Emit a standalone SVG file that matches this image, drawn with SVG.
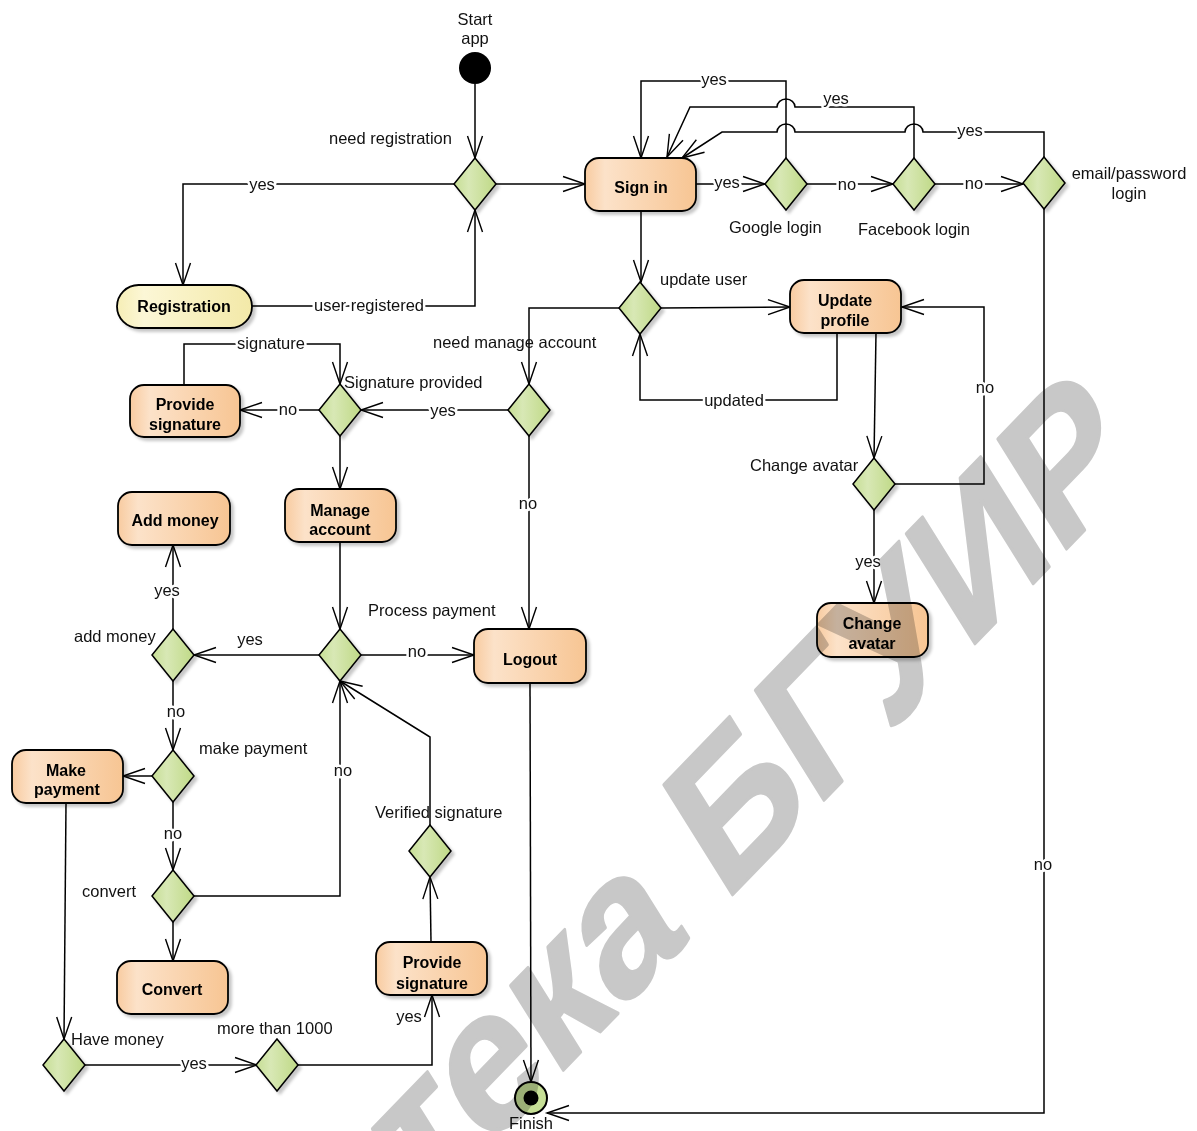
<svg xmlns="http://www.w3.org/2000/svg" width="1197" height="1131" viewBox="0 0 1197 1131">
  <defs>
    <linearGradient id="gAct" x1="0" y1="0" x2="1" y2="0">
      <stop offset="0" stop-color="#f8cba0"/>
      <stop offset="0.18" stop-color="#fce2c9"/>
      <stop offset="1" stop-color="#f7c593"/>
    </linearGradient>
    <linearGradient id="gReg" x1="0" y1="0" x2="1" y2="0">
      <stop offset="0" stop-color="#f6eeb6"/>
      <stop offset="0.2" stop-color="#fcf7d6"/>
      <stop offset="1" stop-color="#f3e9a8"/>
    </linearGradient>
    <linearGradient id="gDec" x1="0" y1="0" x2="1" y2="0">
      <stop offset="0" stop-color="#c6de94"/>
      <stop offset="0.35" stop-color="#d8e8b5"/>
      <stop offset="1" stop-color="#bfd986"/>
    </linearGradient>
    <filter id="shadow" x="-20%" y="-20%" width="150%" height="150%">
      <feDropShadow dx="3" dy="3" stdDeviation="1.6" flood-color="#000" flood-opacity="0.22"/>
    </filter>
    <marker id="arrow" markerUnits="userSpaceOnUse" viewBox="-1 -1 25 17" markerWidth="25" markerHeight="17" refX="22" refY="7.5" orient="auto" overflow="visible">
      <path d="M0,0 L22,7.5 L0,15" fill="none" stroke="#000" stroke-width="1.4"/>
    </marker>
    <path id="dia" d="M0,-26 L21,0 L0,26 L-21,0 Z"/>
    <style>
      .act { fill: url(#gAct); stroke: #000; stroke-width: 1.8; filter: url(#shadow); }
      .reg { fill: url(#gReg); stroke: #000; stroke-width: 1.8; filter: url(#shadow); }
      .dec { fill: url(#gDec); stroke: #000; stroke-width: 1.5; filter: url(#shadow); }
      .nt { font-family: "Liberation Sans", Arial, sans-serif; font-size: 16px; font-weight: bold; text-anchor: middle; fill: #000; }
      .lb { font-family: "Liberation Sans", Arial, sans-serif; font-size: 16.5px; fill: #111; }
      .mid { text-anchor: middle; }
      .ll { font-family: "Liberation Sans", Arial, sans-serif; font-size: 16.5px; fill: #111; text-anchor: middle; stroke: #fff; stroke-width: 5; stroke-linejoin: round; paint-order: stroke; }
      .edges path { fill: none; stroke: #000; stroke-width: 1.5; marker-end: url(#arrow); }
      .wm { font-family: "Liberation Sans", Arial, sans-serif; font-size: 183px; font-weight: bold; fill: #c8c8c8; stroke: #c8c8c8; stroke-width: 3; stroke-linejoin: round; mix-blend-mode: multiply; }
    </style>
  </defs>

  <rect x="0" y="0" width="1197" height="1131" fill="#fff"/>

  <!-- connectors -->
  <g id="connectors" class="edges">
    <path d="M475,84 V158"/>
    <path d="M496,184 H585"/>
    <path d="M454,184 H183 V285"/>
    <path d="M252,306 H475 V210"/>
    <path d="M696,184 H765"/>
    <path d="M806,184 H893"/>
    <path d="M935,184 H1023"/>
    <path d="M786,158 V81 H641 V158"/>
    <path d="M914,158 V107 H795 A9,8 0 0 0 777,107 H690 L667,157"/>
    <path d="M1044,157 V132 H923 A9,8 0 0 0 905,132 H795 A9,8 0 0 0 777,132 H722 L682,158"/>
    <path d="M1044,209 V1113 H547"/>
    <path d="M641,211 V282"/>
    <path d="M661,308 L790,307"/>
    <path d="M837,333 V400 H640 V334"/>
    <path d="M619,308 H529 V384"/>
    <path d="M508,410 H361"/>
    <path d="M529,436 V629"/>
    <path d="M319,410 H240"/>
    <path d="M184,385 V344 H340 V384"/>
    <path d="M340,436 V489"/>
    <path d="M340,542 V629"/>
    <path d="M361,655 H474"/>
    <path d="M319,655 H194"/>
    <path d="M173,629 V545"/>
    <path d="M173,681 V750"/>
    <path d="M153,776 H123"/>
    <path d="M173,802 V870"/>
    <path d="M173,922 V961"/>
    <path d="M194,896 H340 V681"/>
    <path d="M66,803 L64,1039"/>
    <path d="M85,1065 H257"/>
    <path d="M298,1065 H432 V995"/>
    <path d="M431,942 L430,877"/>
    <path d="M430,825 V737 L340,681"/>
    <path d="M530,683 L531,1082"/>
    <path d="M876,333 L874,458"/>
    <path d="M895,484 H984 V307 H902"/>
    <path d="M874,510 V603"/>
  </g>

  <!-- connector labels -->
  <g id="edge-labels">
    <text class="ll" x="262" y="190">yes</text>
    <text class="ll" x="369" y="311">user registered</text>
    <text class="ll" x="727" y="188">yes</text>
    <text class="ll" x="847" y="190">no</text>
    <text class="ll" x="974" y="189">no</text>
    <text class="ll" x="714" y="85">yes</text>
    <text class="ll" x="836" y="104">yes</text>
    <text class="ll" x="970" y="136">yes</text>
    <text class="ll" x="734" y="406">updated</text>
    <text class="ll" x="985" y="393">no</text>
    <text class="ll" x="271" y="349">signature</text>
    <text class="ll" x="288" y="415">no</text>
    <text class="ll" x="443" y="416">yes</text>
    <text class="ll" x="528" y="509">no</text>
    <text class="ll" x="417" y="657">no</text>
    <text class="lb mid" x="250" y="645">yes</text>
    <text class="ll" x="167" y="596">yes</text>
    <text class="ll" x="176" y="717">no</text>
    <text class="ll" x="173" y="839">no</text>
    <text class="ll" x="343" y="776">no</text>
    <text class="ll" x="194" y="1069">yes</text>
    <text class="lb mid" x="409" y="1022">yes</text>
    <text class="ll" x="1043" y="870">no</text>
    <text class="ll" x="868" y="567">yes</text>
  </g>

  <!-- start / finish -->
  <g id="start">
    <circle cx="475" cy="68" r="16" fill="#000"/>
    <text class="lb mid" x="475" y="25">Start</text>
    <text class="lb mid" x="475" y="44">app</text>
  </g>
  <g id="finish">
    <circle cx="531" cy="1098" r="16" fill="#c6df96" stroke="#000" stroke-width="2"/>
    <circle cx="531" cy="1098" r="7.5" fill="#000"/>
    <text class="lb mid" x="531" y="1129">Finish</text>
  </g>

  <!-- decisions -->
  <g id="d-need-registration"><use href="#dia" class="dec" x="475" y="184"/><text class="lb" x="329" y="144">need registration</text></g>
  <g id="d-google"><use href="#dia" class="dec" x="786" y="184"/><text class="lb" x="729" y="233">Google login</text></g>
  <g id="d-facebook"><use href="#dia" class="dec" x="914" y="184"/><text class="lb" x="858" y="235">Facebook login</text></g>
  <g id="d-email"><use href="#dia" class="dec" x="1044" y="183"/><text class="lb mid" x="1129" y="179">email/password</text><text class="lb mid" x="1129" y="199">login</text></g>
  <g id="d-update-user"><use href="#dia" class="dec" x="640" y="308"/><text class="lb" x="660" y="285">update user</text></g>
  <g id="d-manage"><use href="#dia" class="dec" x="529" y="410"/><text class="lb" x="433" y="348">need manage account</text></g>
  <g id="d-signature"><use href="#dia" class="dec" x="340" y="410"/><text class="lb" x="344" y="388">Signature provided</text></g>
  <g id="d-change-avatar"><use href="#dia" class="dec" x="874" y="484"/><text class="lb" x="750" y="471">Change avatar</text></g>
  <g id="d-process"><use href="#dia" class="dec" x="340" y="655"/><text class="lb" x="368" y="616">Process payment</text></g>
  <g id="d-add-money"><use href="#dia" class="dec" x="173" y="655"/><text class="lb" x="74" y="642">add money</text></g>
  <g id="d-make-payment"><use href="#dia" class="dec" x="173" y="776"/><text class="lb" x="199" y="754">make payment</text></g>
  <g id="d-convert"><use href="#dia" class="dec" x="173" y="896"/><text class="lb" x="82" y="897">convert</text></g>
  <g id="d-verified"><use href="#dia" class="dec" x="430" y="851"/><text class="lb" x="375" y="818">Verified signature</text></g>
  <g id="d-have-money"><use href="#dia" class="dec" x="64" y="1065"/><text class="lb" x="71" y="1045">Have money</text></g>
  <g id="d-more-1000"><use href="#dia" class="dec" x="277" y="1065"/><text class="lb" x="217" y="1034">more than 1000</text></g>

  <!-- actions -->
  <g id="sign-in"><rect class="act" x="585" y="158" width="111" height="53" rx="14"/><text class="nt" x="641" y="193">Sign in</text></g>
  <g id="registration"><rect class="reg" x="117" y="285" width="135" height="43" rx="21.5"/><text class="nt" x="184" y="312">Registration</text></g>
  <g id="provide-signature-1"><rect class="act" x="130" y="385" width="110" height="52" rx="14"/><text class="nt" x="185" y="410">Provide</text><text class="nt" x="185" y="430">signature</text></g>
  <g id="update-profile"><rect class="act" x="790" y="280" width="111" height="53" rx="14"/><text class="nt" x="845" y="306">Update</text><text class="nt" x="845" y="326">profile</text></g>
  <g id="add-money"><rect class="act" x="118" y="492" width="112" height="53" rx="14"/><text class="nt" x="175" y="526">Add money</text></g>
  <g id="manage-account"><rect class="act" x="285" y="489" width="111" height="53" rx="14"/><text class="nt" x="340" y="516">Manage</text><text class="nt" x="340" y="535">account</text></g>
  <g id="logout"><rect class="act" x="474" y="629" width="112" height="54" rx="14"/><text class="nt" x="530" y="665">Logout</text></g>
  <g id="change-avatar"><rect class="act" x="817" y="603" width="111" height="54" rx="14"/><text class="nt" x="872" y="629">Change</text><text class="nt" x="872" y="649">avatar</text></g>
  <g id="make-payment"><rect class="act" x="12" y="750" width="111" height="53" rx="14"/><text class="nt" x="66" y="776">Make</text><text class="nt" x="67" y="795">payment</text></g>
  <g id="convert"><rect class="act" x="117" y="961" width="111" height="53" rx="14"/><text class="nt" x="172" y="995">Convert</text></g>
  <g id="provide-signature-2"><rect class="act" x="376" y="942" width="111" height="53" rx="14"/><text class="nt" x="432" y="968">Provide</text><text class="nt" x="432" y="989">signature</text></g>

  <!-- library watermark -->
  <text class="wm" transform="translate(712,916) rotate(-46) skewX(-14)" x="620" y="0" text-anchor="end">Библиотека БГУИР</text>
</svg>
